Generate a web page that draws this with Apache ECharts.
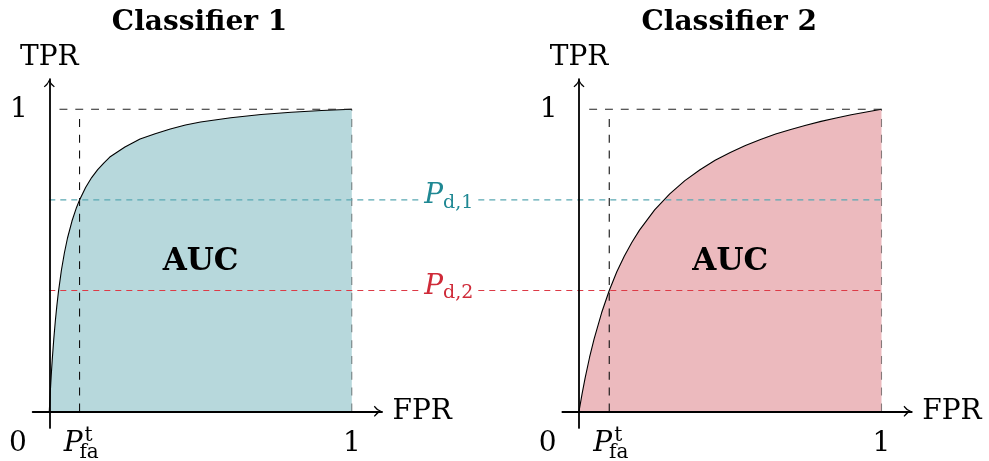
<!DOCTYPE html>
<html><head><meta charset="utf-8">
<script src="https://cdn.jsdelivr.net/npm/echarts@6/dist/echarts.min.js"></script>
<style>html,body{margin:0;padding:0;background:#fff}#c{width:989px;height:461px}</style>
</head><body><div id="c"></div>
<script>
// ---- data ----
const panelTitles = ['Classifier 1', 'Classifier 2'];
const fpr1 = [0, 0.001, 0.0025, 0.005, 0.0075, 0.01, 0.015, 0.02, 0.025, 0.03, 0.04, 0.05, 0.06, 0.075, 0.09, 0.1,
              0.12, 0.14, 0.16, 0.18, 0.2, 0.25, 0.3, 0.35, 0.4, 0.45, 0.5, 0.6, 0.7, 0.8, 0.9, 1];
const tpr1 = [0, 0.02, 0.05, 0.095, 0.137, 0.175, 0.242, 0.30, 0.35, 0.394, 0.467, 0.525, 0.573, 0.63, 0.675, 0.70,
              0.741, 0.774, 0.80, 0.822, 0.842, 0.875, 0.902, 0.919, 0.935, 0.948, 0.958, 0.972, 0.983, 0.99, 0.996, 1];
const fpr2 = [0, 0.01, 0.02, 0.035, 0.05, 0.075, 0.1, 0.125, 0.15, 0.175, 0.2, 0.25, 0.3, 0.35, 0.4, 0.45, 0.5,
              0.55, 0.6, 0.65, 0.7, 0.75, 0.8, 0.85, 0.9, 0.95, 1];
const tpr2 = [0, 0.057, 0.109, 0.179, 0.24, 0.327, 0.40, 0.462, 0.514, 0.56, 0.60, 0.667, 0.72, 0.764, 0.80, 0.831, 0.857,
              0.880, 0.90, 0.918, 0.933, 0.947, 0.96, 0.971, 0.982, 0.991, 1];
const pfaThreshold = 0.1;
const pdLevels = [0.7, 0.4];
const pdSubscripts = ['d,1', 'd,2'];
const pdLabelFPR = 0.48;          // position of the P_d labels along the shared line
const areaLabel = 'AUC';
const tickLabels = ['0', '1', '1']; // origin, FPR = 1, TPR = 1
const axisNames = ['FPR', 'TPR'];
const pfaLabel = ['P', 'fa', 't'];
const guideStartFPR = 0.022;
const guideTopTPR = 0.975;

// ---- style / layout ----
const FONT = 'DejaVu Serif';
const fills = ['#b7d8dc', '#ecbabe'];
const pdLineColors = ['#5aa8b2', '#dc3a46'];
const pdTextColors = ['#1f8893', '#cf2a38'];
const X0 = [49.3, 579.0], UX = 302.5, Y0 = 411.3, UY = 302;
const XMIN = -0.055, XMAX = 1.1, YMIN = -0.055, YMAX = 1.1;
const arrow = 'path://M0,0 Q1.5,4 5,6.5 L4.2,7.3 Q1.2,5.2 0,2.1 Q-1.2,5.2 -4.2,7.3 L-5,6.5 Q-1.5,4 0,0 Z';

const zip = (a, b) => a.map((v, i) => [v, b[i]]);
const curves = [zip(fpr1, tpr1), zip(fpr2, tpr2)];

const grids = [], xAxes = [], yAxes = [], series = [];
const gTop = Y0 - YMAX * UY, gHeight = (YMAX - YMIN) * UY;
const hidden = {color: 'rgba(0,0,0,0)', opacity: 1};

for (let i = 0; i < 2; i++) {
  grids.push({left: X0[i] + XMIN * UX, top: gTop, width: (XMAX - XMIN) * UX, height: gHeight});
  const axisLine = {show: true, onZero: true, symbol: ['none', arrow], symbolSize: [11, 8.5], symbolOffset: [0, -4.2],
                    lineStyle: {color: '#000', width: 1.8}};
  xAxes.push({gridIndex: i, type: 'value', min: XMIN, max: XMAX, z: 10, axisLine: axisLine,
    axisTick: {show: false}, axisLabel: {show: false}, splitLine: {show: false},
    name: axisNames[0], nameLocation: 'end', nameGap: 10.5,
    nameTextStyle: {fontFamily: FONT, fontSize: 28, color: '#000', align: 'left', verticalAlign: 'middle', padding: [5, 0, 0, 0]}});
  yAxes.push({gridIndex: i, type: 'value', min: YMIN, max: YMAX, z: 10, axisLine: axisLine,
    axisTick: {show: false}, axisLabel: {show: false}, splitLine: {show: false},
    name: axisNames[1], nameLocation: 'end', nameGap: 21,
    nameTextStyle: {fontFamily: FONT, fontSize: 28, color: '#000', align: 'center', verticalAlign: 'middle'}});

  series.push({type: 'line', xAxisIndex: i, yAxisIndex: i, data: curves[i], smooth: false,
    showSymbol: false, silent: true, z: 2, lineStyle: {color: '#000', width: 1.1},
    areaStyle: {color: fills[i], opacity: 1}});

  const guide = (data, color) => ({type: 'line', xAxisIndex: i, yAxisIndex: i, data: data, showSymbol: false,
    silent: true, z: 3, lineStyle: {color: color, width: 1.1, type: [7.9, 7.9]}});
  series.push(guide([[1, 1], [guideStartFPR, 1]], '#222'));
  series.push(guide([[pfaThreshold, 0], [pfaThreshold, guideTopTPR]], '#111'));
  series.push(guide([[1, 0], [1, 1]], 'rgba(0,0,0,0.45)'));

  const txt = {fontFamily: FONT, fontSize: 28, color: '#000'};
  series.push({type: 'scatter', xAxisIndex: i, yAxisIndex: i, symbolSize: 1, silent: true, z: 6,
    itemStyle: hidden,
    label: Object.assign({show: true, position: 'inside', formatter: '{b}'}, txt),
    data: [
      {name: tickLabels[0], value: [0, 0], label: Object.assign({offset: [-31.3, 32.5]}, txt)},
      {name: tickLabels[1], value: [1, 0], label: Object.assign({offset: [0, 32]}, txt)},
      {name: tickLabels[2], value: [0, 1], label: Object.assign({offset: [-30.3, 0]}, txt)},
      {name: pfaLabel[0], value: [pfaThreshold, 0], label: Object.assign({}, txt, {offset: [-6.5, 32.5], fontStyle: 'italic'})},
      {name: pfaLabel[1], value: [pfaThreshold, 0], label: Object.assign({}, txt, {offset: [9.5, 41], fontSize: 20})},
      {name: pfaLabel[2], value: [pfaThreshold, 0], label: Object.assign({}, txt, {offset: [9, 24], fontSize: 20})},
      {name: areaLabel, value: [0.5, 0.5], label: Object.assign({}, txt, {offset: [0, 1.2], fontSize: 31, fontWeight: 'bold'})},
      {name: panelTitles[i], value: [0.5, 1], label: Object.assign({}, txt, {offset: [-1, -87], fontWeight: 'bold'})}
    ]});
}

// overlay grid spanning both panels for the shared P_d lines
grids.push({left: X0[0], top: gTop, width: X0[1] + UX - X0[0], height: gHeight});
xAxes.push({gridIndex: 2, type: 'value', min: 0, max: 1, show: false});
yAxes.push({gridIndex: 2, type: 'value', min: YMIN, max: YMAX, show: false});
pdLevels.forEach((pd, k) => {
  series.push({type: 'line', xAxisIndex: 2, yAxisIndex: 2, data: [[0, pd], [1, pd]], showSymbol: false,
    silent: true, z: 4, lineStyle: {color: pdLineColors[k], width: 1.2, type: [6, 5]}});
  series.push({type: 'scatter', xAxisIndex: 2, yAxisIndex: 2, symbolSize: 1, silent: true, z: 7,
    itemStyle: hidden,
    data: [{name: pdSubscripts[k], value: [pdLabelFPR, pd]}],
    label: {show: true, position: 'inside', offset: [0, -4.2], backgroundColor: '#fff', padding: [0, 4],
      formatter: p => '{p|P}{s|' + p.name + '}',
      rich: {
        p: {fontFamily: FONT, fontStyle: 'italic', fontSize: 28, color: pdTextColors[k]},
        s: {fontFamily: FONT, fontSize: 19, color: pdTextColors[k], padding: [14, 0, 0, 0]}
      }}});
});

const chart = echarts.init(document.getElementById('c'), null, {renderer: 'canvas'});
chart.setOption({animation: false, backgroundColor: '#fff', grid: grids, xAxis: xAxes, yAxis: yAxes, series: series});
</script>
</body></html>
